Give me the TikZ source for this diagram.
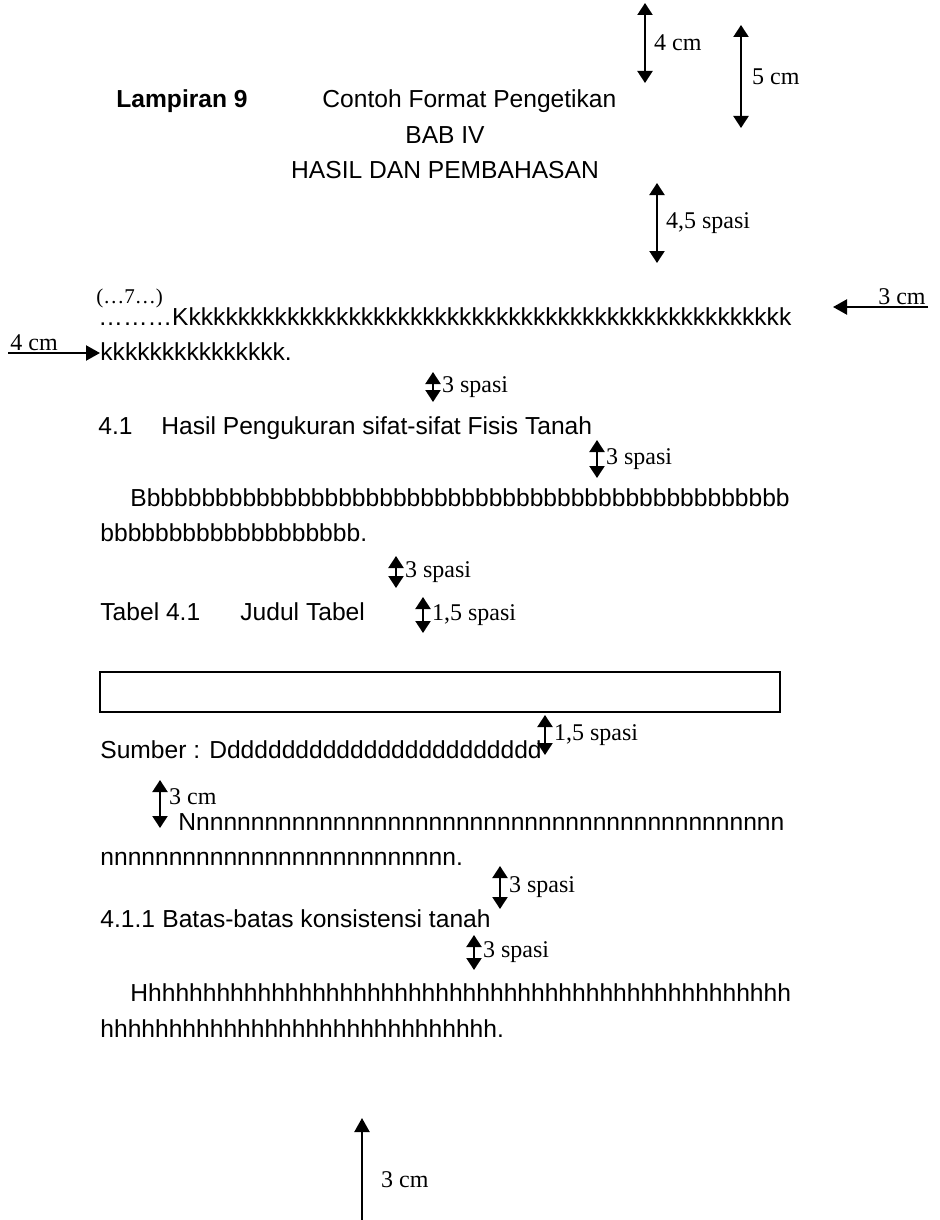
\documentclass[tikz,border=0pt]{standalone}
\usepackage{fontspec}
\setmainfont{Liberation Serif}
\newfontfamily\arialfont{Liberation Sans}
\usetikzlibrary{arrows.meta, positioning}

\begin{document}
\begin{tikzpicture}[
    x=0.5pt, y=-0.5pt,
    body/.style={inner sep=0pt, anchor=base west, font=\arialfont\fontsize{12.3}{14}\selectfont},
    head/.style={body, anchor=base},
    note/.style={inner sep=0pt, anchor=west, font=\fontsize{12}{13}\selectfont},
    tablebox/.style={rectangle, draw, line width=0.75pt, minimum width=340pt, minimum height=20pt, inner sep=0pt},
    dimarrow/.style={{Triangle[length=6pt,width=7.5pt]}-{Triangle[length=6pt,width=7.5pt]}, line width=1.1pt},
    onearrow/.style={-{Triangle[length=7pt,width=7.5pt]}, line width=1.1pt}
]
\useasboundingbox (0,0) rectangle (939,1220);

% Heading
\node[body, font=\arialfont\bfseries\fontsize{12.3}{14}\selectfont] (lamp) at (116,108) {Lampiran 9};
\node[body] (contoh) at (322,108) {Contoh Format Pengetikan};
\node[head] (bab) at (445,143) {BAB IV};
\node[head] (judul) at (445,178) {HASIL DAN PEMBAHASAN};

% Top margins
\coordinate (m4t) at (645,3);
\coordinate (m4b) at (645,83);
\draw[dimarrow] (m4t) -- (m4b) node[note, midway, xshift=4pt] {4 cm};
\coordinate (m5t) at (741,25);
\coordinate (m5b) at (741,128);
\draw[dimarrow] (m5t) -- (m5b) node[note, midway, xshift=5pt] {5 cm};
\coordinate (s45t) at (657,183);
\coordinate (s45b) at (657,263);
\draw[dimarrow] (s45t) -- (s45b) node[note, midway, xshift=4pt] {4,5 spasi};

% First paragraph
\node[note, anchor=base west, font=\fontsize{10.5}{12}\selectfont] (page) at (96,303) {(…7…)};
\node[body] (kline1) at (98,325) {………Kkkkkkkkkkkkkkkkkkkkkkkkkkkkkkkkkkkkkkkkkkkkkkkkkk};
\node[body] (kline2) at (100,360) {kkkkkkkkkkkkkkk.};

% Side margins
\coordinate (rm) at (928,307);
\coordinate (rmtip) at (833,307);
\draw[onearrow] (rm) -- (rmtip);
\node[note, anchor=south east, inner sep=1pt] (rmlab) at (rm) {3 cm};
\coordinate (lm) at (8,353);
\coordinate (lmtip) at (100,353);
\draw[onearrow] (lm) -- (lmtip);
\node[note, anchor=south west, inner sep=1pt] (lmlab) at (lm) {4 cm};

\coordinate (s1t) at (433,372);
\coordinate (s1b) at (433,402);
\draw[dimarrow] (s1t) -- (s1b) node[note, midway, xshift=4pt] {3 spasi};

% Sub chapter 4.1
\node[body] (sub) at (98,434) {4.1};
\node[body] (subt) at (161,434) {Hasil Pengukuran sifat-sifat Fisis Tanah};
\coordinate (s2t) at (597,440);
\coordinate (s2b) at (597,478);
\draw[dimarrow] (s2t) -- (s2b) node[note, midway, xshift=4pt] {3 spasi};
\node[body] (bline1) at (130,506) {Bbbbbbbbbbbbbbbbbbbbbbbbbbbbbbbbbbbbbbbbbbbbbbbb};
\node[body] (bline2) at (100,541) {bbbbbbbbbbbbbbbbbbb.};
\coordinate (s3t) at (396,556);
\coordinate (s3b) at (396,588);
\draw[dimarrow] (s3t) -- (s3b) node[note, midway, xshift=4pt] {3 spasi};

% Table
\node[body] (tabno) at (100,620) {Tabel 4.1};
\node[body] (tabjud) at (240,620) {Judul Tabel};
\coordinate (s4t) at (423,597);
\coordinate (s4b) at (423,633);
\draw[dimarrow] (s4t) -- (s4b) node[note, midway, xshift=4pt] {1,5 spasi};
\node[tablebox] (tbl) at (440,692) {};
\coordinate (s5t) at (545,715);
\coordinate (s5b) at (545,755);
\draw[dimarrow] (s5t) -- (s5b) node[note, midway, xshift=4pt] {1,5 spasi};
\node[body] (sumber) at (100,758) {Sumber : Dddddddddddddddddddddddd};

% Second paragraph
\coordinate (i3t) at (160,780);
\coordinate (i3b) at (160,828);
\draw[dimarrow] (i3t) -- (i3b) node[note, pos=0.35, xshift=4pt] {3 cm};
\node[body] (nline1) at (178,830) {Nnnnnnnnnnnnnnnnnnnnnnnnnnnnnnnnnnnnnnnnnnnn};
\node[body] (nline2) at (100,865) {nnnnnnnnnnnnnnnnnnnnnnnnnn.};
\coordinate (s6t) at (500,866);
\coordinate (s6b) at (500,909);
\draw[dimarrow] (s6t) -- (s6b) node[note, midway, xshift=4pt] {3 spasi};

% Sub sub chapter 4.1.1
\node[body] (subsub) at (100,927) {4.1.1};
\node[body] (subsubt) at (162,927) {Batas-batas konsistensi tanah};
\coordinate (s7t) at (474,935);
\coordinate (s7b) at (474,970);
\draw[dimarrow] (s7t) -- (s7b) node[note, midway, xshift=4pt] {3 spasi};
\node[body] (hline1) at (130,1001) {Hhhhhhhhhhhhhhhhhhhhhhhhhhhhhhhhhhhhhhhhhhhhhhhh};
\node[body] (hline2) at (100,1037) {hhhhhhhhhhhhhhhhhhhhhhhhhhhhh.};

% Bottom margin
\coordinate (bm) at (362,1220);
\coordinate (bmtip) at (362,1118);
\draw[onearrow] (bm) -- (bmtip) node[note, pos=0.4, xshift=9pt] {3 cm};

\end{tikzpicture}
\end{document}
